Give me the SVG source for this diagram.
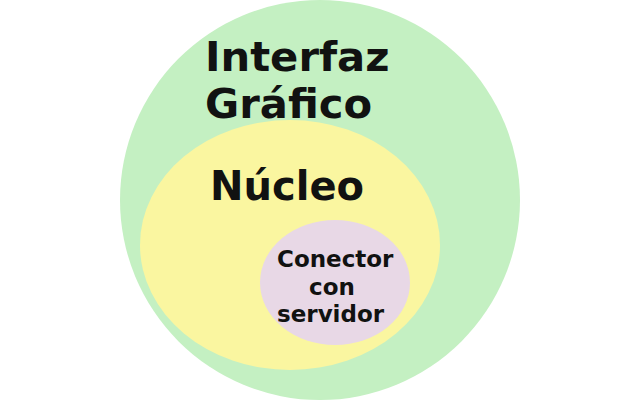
<svg xmlns="http://www.w3.org/2000/svg" width="640" height="400" viewBox="0 0 640 400">
<style>
.t{font-family:"DejaVu Sans","Liberation Sans",sans-serif;font-weight:bold;fill:#111211}
</style>
<rect width="640" height="400" fill="#ffffff"/>
<g id="interfaz">
<ellipse cx="320" cy="200" rx="200" ry="200" fill="#c4f0c2"/>
<text class="t" x="205" y="71" font-size="41.7">Interfaz</text>
<text class="t" x="205" y="118" font-size="41.7">Gráfico</text>
</g>
<g id="nucleo">
<ellipse cx="290" cy="245" rx="150" ry="125" fill="#faf6a0"/>
<text class="t" x="210" y="200" font-size="40">Núcleo</text>
</g>
<g id="conector">
<ellipse cx="335" cy="282.5" rx="75" ry="62.5" fill="#e8d8e6"/>
<text class="t" x="277" y="267" font-size="23">Conector</text>
<text class="t" x="309" y="295" font-size="23">con</text>
<text class="t" x="277" y="322" font-size="23">servidor</text>
</g>
</svg>
